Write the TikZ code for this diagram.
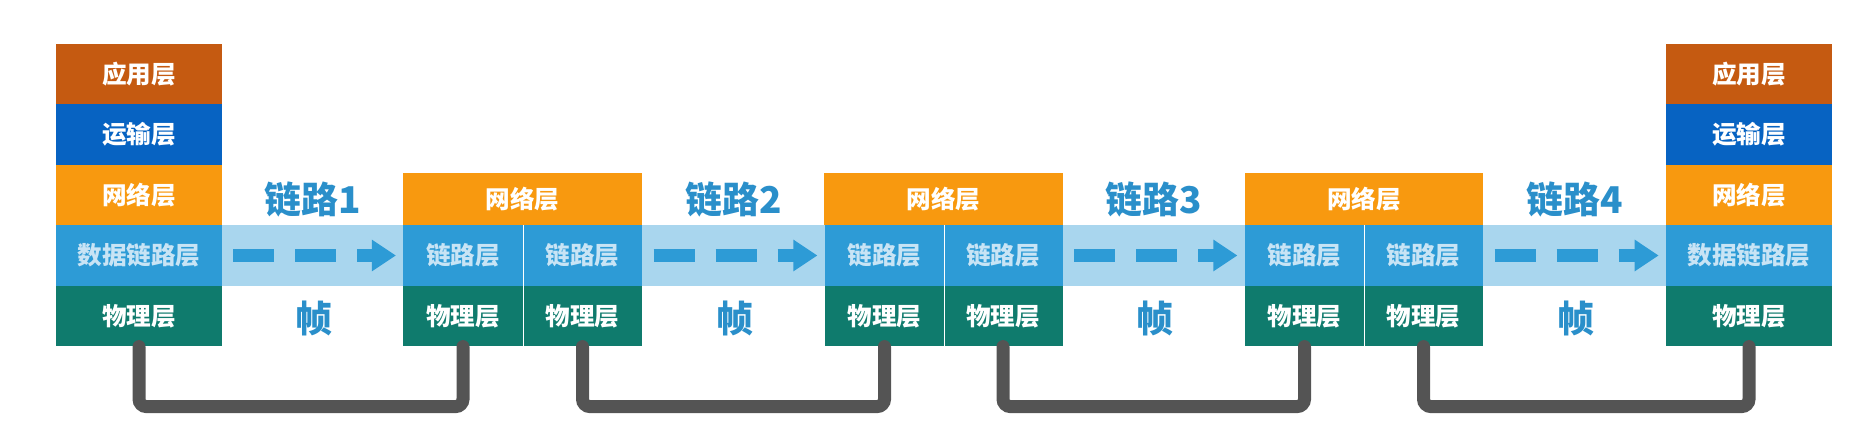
\documentclass[tikz,border=0pt]{standalone}
\usepackage{fontspec}
\newfontfamily\cjk{Noto Sans CJK SC}
\usetikzlibrary{arrows.meta}

\definecolor{appc}{HTML}{C55A11}
\definecolor{tranc}{HTML}{0763C2}
\definecolor{netc}{HTML}{F8990F}
\definecolor{dlc}{HTML}{2D9BD6}
\definecolor{dltxt}{HTML}{C8E4F5}
\definecolor{phyc}{HTML}{0F7B6D}
\definecolor{bandc}{HTML}{A9D6EE}
\definecolor{lblc}{HTML}{2A8FCA}
\definecolor{cablec}{HTML}{545454}

\tikzset{
  layer/.style={fill=#1, text=white, minimum width=3.32cm, minimum height=1.21cm,
    inner sep=0pt, font=\cjk\bfseries\fontsize{14}{16}\selectfont},
  half/.style={layer=#1, minimum width=2.39cm},
  netbox/.style={layer=netc, minimum width=4.78cm, minimum height=1.04cm},
  linklbl/.style={text=lblc, inner sep=0pt, font=\cjk\bfseries\fontsize{21}{24}\selectfont},
  hop/.style={draw=dlc, line width=0.26cm, dash pattern=on 0.82cm off 0.42cm,
    -{Triangle[length=0.48cm,width=0.6cm]}},
  cable/.style={draw=cablec, line width=0.26cm, line cap=round, rounded corners=0.15cm},
  divider/.style={draw=white, line width=0.6pt}
}

\begin{document}
\begin{tikzpicture}[x=0.02cm,y=-0.02cm]
   \useasboundingbox (0,0) rectangle (1869,431);

   \fill[bandc] (222,225) rectangle (1666,286);

   % end host left
   \node[layer=appc] (lapp) at (139,74) {应用层};
   \node[layer=tranc] (ltran) at (139,134.5) {运输层};
   \node[layer=netc] (lnet) at (139,195) {网络层};
   \node[layer=dlc, text=dltxt] (ldl) at (139,255.5) {数据链路层};
   \node[layer=phyc] (lphy) at (139,316) {物理层};

   % routers
   \node[netbox] (r1net) at (522.5,199) {网络层};
   \node[half=dlc, text=dltxt] (r1adl) at (463,255.5) {链路层};
   \node[half=dlc, text=dltxt] (r1bdl) at (582.5,255.5) {链路层};
   \node[half=phyc] (r1aphy) at (463,316) {物理层};
   \node[half=phyc] (r1bphy) at (582.5,316) {物理层};

   \node[netbox] (r2net) at (943.5,199) {网络层};
   \node[half=dlc, text=dltxt] (r2adl) at (884.5,255.5) {链路层};
   \node[half=dlc, text=dltxt] (r2bdl) at (1003,255.5) {链路层};
   \node[half=phyc] (r2aphy) at (884.5,316) {物理层};
   \node[half=phyc] (r2bphy) at (1003,316) {物理层};

   \node[netbox] (r3net) at (1364,199) {网络层};
   \node[half=dlc, text=dltxt] (r3adl) at (1304.5,255.5) {链路层};
   \node[half=dlc, text=dltxt] (r3bdl) at (1423.5,255.5) {链路层};
   \node[half=phyc] (r3aphy) at (1304.5,316) {物理层};
   \node[half=phyc] (r3bphy) at (1423.5,316) {物理层};

   \draw[divider] (r1adl.north east) -- (r1aphy.south east);
   \draw[divider] (r2adl.north east) -- (r2aphy.south east);
   \draw[divider] (r3adl.north east) -- (r3aphy.south east);

   % end host right
   \node[layer=appc] (rapp) at (1749,74) {应用层};
   \node[layer=tranc] (rtran) at (1749,134.5) {运输层};
   \node[layer=netc] (rnet) at (1749,195) {网络层};
   \node[layer=dlc, text=dltxt] (rdl) at (1749,255.5) {数据链路层};
   \node[layer=phyc] (rphy) at (1749,316) {物理层};

   \node[linklbl] (lk1) at (312.5,199) {链路1};
   \node[linklbl] (lk2) at (733.5,199) {链路2};
   \node[linklbl] (lk3) at (1153.5,199) {链路3};
   \node[linklbl] (lk4) at (1574.5,199) {链路4};
   \node[linklbl] (fr1) at (314,318) {帧};
   \node[linklbl] (fr2) at (735,318) {帧};
   \node[linklbl] (fr3) at (1155,318) {帧};
   \node[linklbl] (fr4) at (1576,318) {帧};

   \draw[hop] ([xshift=0.22cm]ldl.east) -- ([xshift=-0.14cm]r1adl.west);
   \draw[hop] ([xshift=0.22cm]r1bdl.east) -- ([xshift=-0.14cm]r2adl.west);
   \draw[hop] ([xshift=0.22cm]r2bdl.east) -- ([xshift=-0.14cm]r3adl.west);
   \draw[hop] ([xshift=0.22cm]r3bdl.east) -- ([xshift=-0.14cm]rdl.west);

   \draw[cable] (lphy.south) -- ++(0,60) -| (r1aphy.south);
   \draw[cable] (r1bphy.south) -- ++(0,60) -| (r2aphy.south);
   \draw[cable] (r2bphy.south) -- ++(0,60) -| (r3aphy.south);
   \draw[cable] (r3bphy.south) -- ++(0,60) -| (rphy.south);

\end{tikzpicture}
\end{document}
